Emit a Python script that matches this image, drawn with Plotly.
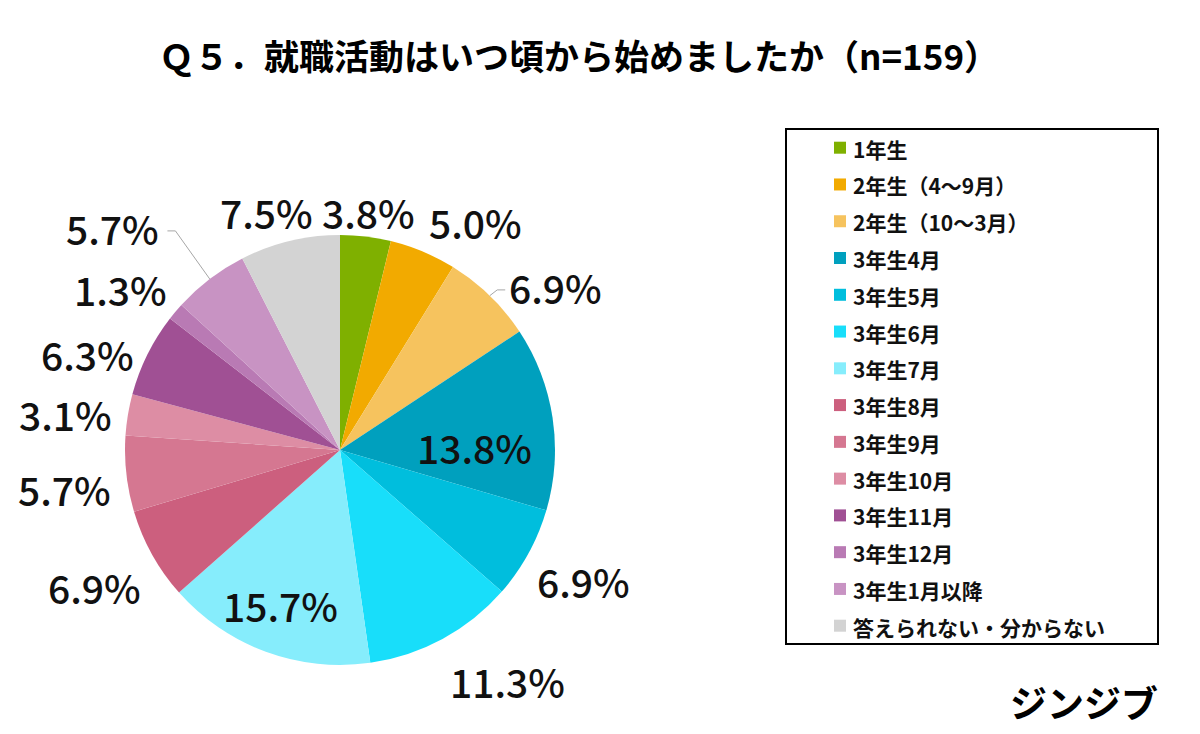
import math
import plotly.graph_objects as go

# ---------------- data ----------------
categories = [
    "1年生", "2年生（4〜9月）", "2年生（10〜3月）", "3年生4月", "3年生5月",
    "3年生6月", "3年生7月", "3年生8月", "3年生9月", "3年生10月",
    "3年生11月", "3年生12月", "3年生1月以降", "答えられない・分からない",
]
percent = [3.8, 5.0, 6.9, 13.8, 6.9, 11.3, 15.7, 6.9, 5.7, 3.1, 6.3, 1.3, 5.7, 7.5]
colors = [
    "#7FB000", "#F2AA00", "#F6C35E", "#00A0BE", "#00BEDD",
    "#18DEFA", "#86EDFC", "#CC5F7E", "#D57791", "#DD8DA4",
    "#A05094", "#B97AB4", "#C893C3", "#D3D3D3",
]
title_text = "Ｑ５．就職活動はいつ頃から始めましたか（n=159）"
brand_text = "ジンジブ"

# ---------------- layout constants (pixels) ----------------
W, H = 1200, 734
CX, CY, R = 340, 450, 215
FONT = "Noto Sans CJK JP"

# label placement style: angle nudge (deg) and radius factor per slice
label_dtheta = [0, 8, 8.7, 7.3, -0.5, -7.5, 1, 0, -1.6, -2, -5.5, -3.8, -8.4, -3.7]
label_rfac = [1.116, 1.233, 1.256, 0.628, 1.284, 1.326, 0.772, 1.307, 1.293, 1.288,
              1.256, 1.265, 1.479, 1.158]


def px(x):
    return x / W


def py(y):
    return 1 - y / H


fig = go.Figure()
fig.add_trace(go.Pie(
    labels=categories,
    values=percent,
    sort=False,
    direction="clockwise",
    rotation=0,
    marker=dict(colors=colors, line=dict(width=0)),
    textinfo="none",
    hoverinfo="label+percent",
    domain=dict(x=[px(CX - R), px(CX + R)], y=[py(CY + R), py(CY - R)]),
    showlegend=False,
))

annotations = []
shapes = []

# data labels, positioned from each slice's mid angle
total = sum(percent)
cum = 0.0
mids = []
for v in percent:
    mids.append((cum + v / 2) / total * 360.0)
    cum += v

label_pos = []
for i, v in enumerate(percent):
    th = math.radians(mids[i] + label_dtheta[i])
    rr = R * label_rfac[i]
    x = CX + rr * math.sin(th)
    y = CY - rr * math.cos(th)
    label_pos.append((x, y))
    annotations.append(dict(
        x=px(x), y=py(y), xref="paper", yref="paper",
        text=f"{v:.1f}%", showarrow=False,
        xanchor="center", yanchor="middle",
        font=dict(family=FONT, size=39, weight=500, color="#111111"),
    ))

# leader lines for two labels (slice index, end offset from label centre)
for idx, end_dx in [(2, -50), (12, 55)]:
    th = math.radians(mids[idx])
    ex = CX + R * math.sin(th)
    ey = CY - R * math.cos(th)
    lx, ly = label_pos[idx]
    endx = lx + end_dx
    endy = ly + 3
    elbx = endx + (-8 if end_dx < 0 else 8)
    path = f"M {px(ex)},{py(ey)} L {px(elbx)},{py(endy)} L {px(endx)},{py(endy)}"
    shapes.append(dict(type="path", xref="paper", yref="paper", path=path,
                       line=dict(color="#A6A6A6", width=1)))

# manual legend
LX0, LY0, LX1, LY1 = 786, 129, 1158, 644
shapes.append(dict(type="rect", xref="paper", yref="paper",
                   x0=px(LX0), x1=px(LX1), y0=py(LY1), y1=py(LY0),
                   line=dict(color="#000000", width=2), fillcolor="rgba(0,0,0,0)"))
row0, step = 147.7, 36.77
for i, (cat, col) in enumerate(zip(categories, colors)):
    yc = row0 + i * step
    shapes.append(dict(type="rect", xref="paper", yref="paper",
                       x0=px(834), x1=px(846), y0=py(yc + 6), y1=py(yc - 6),
                       line=dict(width=0), fillcolor=col))
    annotations.append(dict(
        x=px(851), y=py(yc + 1), xref="paper", yref="paper",
        text=f"<b>{cat}</b>", showarrow=False,
        xanchor="left", yanchor="middle",
        font=dict(family=FONT, size=21, color="#111111"),
    ))

# title
annotations.append(dict(
    x=px(579), y=py(55), xref="paper", yref="paper",
    text=f"<b>{title_text}</b>", showarrow=False,
    xanchor="center", yanchor="middle",
    font=dict(family=FONT, size=35, color="#000000"),
))
# brand mark
annotations.append(dict(
    x=px(1160), y=py(702), xref="paper", yref="paper",
    text=f"<b>{brand_text}</b>", showarrow=False,
    xanchor="right", yanchor="middle",
    font=dict(family=FONT, size=37, color="#000000"),
))

fig.update_layout(
    width=W, height=H,
    margin=dict(l=0, r=0, t=0, b=0),
    paper_bgcolor="white",
    plot_bgcolor="white",
    annotations=annotations,
    shapes=shapes,
)

fig.write_html("out.html")
